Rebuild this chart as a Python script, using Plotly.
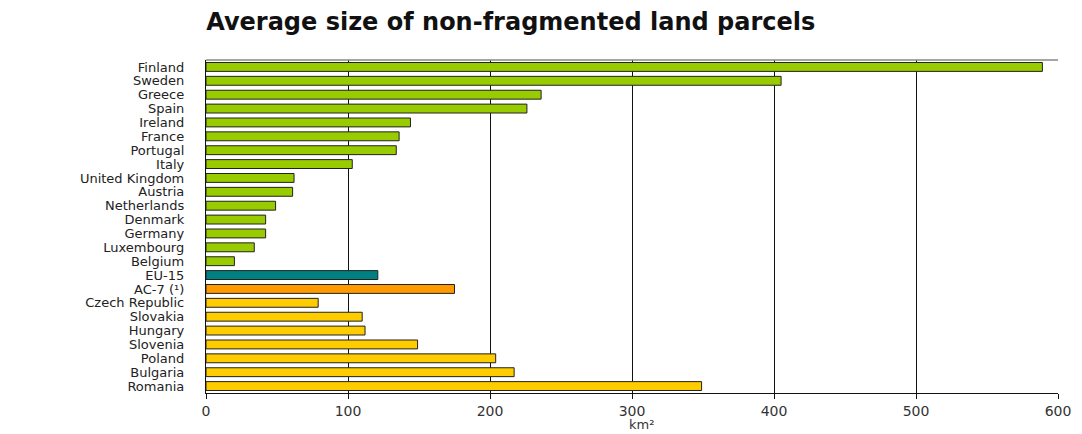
import plotly.graph_objects as go

countries = ["Finland", "Sweden", "Greece", "Spain", "Ireland", "France", "Portugal",
             "Italy", "United Kingdom", "Austria", "Netherlands", "Denmark", "Germany",
             "Luxembourg", "Belgium", "EU-15", "AC-7 (\u00b9)", "Czech Republic",
             "Slovakia", "Hungary", "Slovenia", "Poland", "Bulgaria", "Romania"]
values = [589, 405, 236, 226, 144, 136, 134, 103, 62, 61, 49, 42, 42, 34, 20,
          121, 175, 79, 110, 112, 149, 204, 217, 349]
groups = ["EU"] * 15 + ["EU15", "AC7"] + ["AC"] * 7
group_colors = {"EU": "#99CC00", "EU15": "#008080", "AC7": "#FF9900", "AC": "#FFCC00"}
x_ticks = [0, 100, 200, 300, 400, 500, 600]

fig = go.Figure(go.Bar(
    x=values, y=countries, orientation="h",
    marker=dict(color=[group_colors[g] for g in groups],
                line=dict(color="#222222", width=1)),
    width=0.64,
))

fig.update_layout(
    width=1082, height=434,
    margin=dict(l=206, r=24, t=60, b=41),
    paper_bgcolor="white", plot_bgcolor="white",
    showlegend=False,
    font=dict(family="DejaVu Sans, Arial", color="#222222"),
    title=dict(text="<b>Average size of non-fragmented land parcels</b>",
               x=0.472, xanchor="center", y=0.95, yanchor="middle",
               font=dict(family="DejaVu Sans", size=24, color="#111111")),
    xaxis=dict(range=[0, 600], tickvals=x_ticks, showgrid=True, gridcolor="#111111",
               gridwidth=1.3, showline=True, linecolor="#111111", linewidth=1.3,
               ticks="outside", ticklen=5, tickcolor="#111111",
               tickfont=dict(size=14, family="DejaVu Sans", color="#333333"),
               zeroline=False, fixedrange=True),
    yaxis=dict(autorange="reversed", showgrid=False, showline=True, linecolor="#111111",
               linewidth=1.3, ticks="", ticklabelstandoff=18,
               tickmode="linear", dtick=1,
               tickfont=dict(size=13, family="DejaVu Sans", color="#222222"),
               fixedrange=True),
    shapes=[dict(type="line", xref="paper", yref="paper", x0=0, x1=1, y0=1, y1=1,
                 line=dict(color="#888888", width=1.5))],
    annotations=[dict(text="km\u00b2", xref="paper", yref="paper", x=0.511, y=0,
                      xanchor="center", yanchor="bottom", yshift=-41, showarrow=False,
                      font=dict(size=13, family="DejaVu Sans", color="#333333"))],
)

fig.write_html("out.html", config={"displayModeBar": False},
               post_script="document.body.style.margin='0';")
